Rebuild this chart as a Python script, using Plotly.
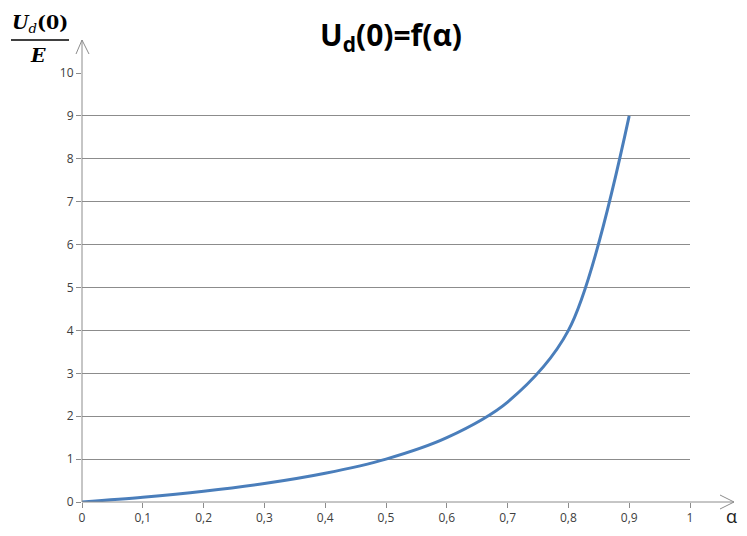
import plotly.graph_objects as go

alpha = [0, 0.1, 0.2, 0.3, 0.4, 0.5, 0.6, 0.7, 0.8, 0.9]
ud_over_e = [0, 0.11, 0.25, 0.43, 0.67, 1.0, 1.5, 2.33, 4.0, 9.0]

x_tickvals = [0, 0.1, 0.2, 0.3, 0.4, 0.5, 0.6, 0.7, 0.8, 0.9, 1]
x_ticktext = ["0", "0,1", "0,2", "0,3", "0,4", "0,5", "0,6", "0,7", "0,8", "0,9", "1"]
y_tickvals = list(range(0, 11))

OFF = 8  # page body margin
W, H = 747 - 2 * OFF, 536 - 2 * OFF
# screen pixel positions of the plot area
SX0, SX1, SY0, SY1 = 82, 690, 502, 73
L = SX0 - OFF
R = W - (SX1 - OFF)
T = SY1 - OFF
B = H - (SY0 - OFF)
pw, ph = W - L - R, H - T - B

def px(xs):
    return (xs - SX0) / pw

def py(ys):
    return (SY0 - ys) / ph

grid = "#8c8c8c"
tickfont = dict(family="Open Sans, DejaVu Sans, sans-serif", size=12, color="#404040")

fig = go.Figure()
fig.add_trace(go.Scatter(
    x=alpha, y=ud_over_e, mode="lines",
    line=dict(color="#4a7ebb", width=3, shape="spline", smoothing=0.9),
    hoverinfo="skip", showlegend=False,
))

fig.update_layout(
    width=W, height=H,
    margin=dict(l=L, r=R, t=T, b=B, autoexpand=False),
    paper_bgcolor="white", plot_bgcolor="white",
    xaxis=dict(range=[0, 1], tickvals=x_tickvals, ticktext=x_ticktext,
               showgrid=False, zeroline=False, showline=False, automargin=False,
               ticks="outside", ticklen=5, tickcolor=grid, tickwidth=1,
               tickfont=tickfont, fixedrange=True),
    yaxis=dict(range=[0, 10], tickvals=y_tickvals, showgrid=True,
               gridcolor=grid, gridwidth=1, zeroline=False, showline=False, automargin=False,
               ticks="outside", ticklen=5, tickcolor=grid, tickwidth=1,
               tickfont=tickfont, fixedrange=True),
)

shapes = []
# x axis line with arrow
shapes.append(dict(type="line", xref="paper", yref="paper", x0=0, y0=0, x1=px(734), y1=0,
                   line=dict(color=grid, width=1)))
shapes.append(dict(type="line", xref="paper", yref="paper", x0=px(720), y0=py(495), x1=px(734), y1=0,
                   line=dict(color=grid, width=1)))
shapes.append(dict(type="line", xref="paper", yref="paper", x0=px(720), y0=py(509), x1=px(734), y1=0,
                   line=dict(color=grid, width=1)))
# y axis line with arrow
shapes.append(dict(type="line", xref="paper", yref="paper", x0=0, y0=0, x1=0, y1=py(40),
                   line=dict(color=grid, width=1)))
shapes.append(dict(type="line", xref="paper", yref="paper", x0=px(76), y0=py(54), x1=0, y1=py(40),
                   line=dict(color=grid, width=1)))
shapes.append(dict(type="line", xref="paper", yref="paper", x0=px(89), y0=py(54), x1=0, y1=py(40),
                   line=dict(color=grid, width=1)))
# fraction bar
shapes.append(dict(type="line", xref="paper", yref="paper", x0=px(11), y0=py(40), x1=px(69), y1=py(40),
                   line=dict(color="black", width=1.5)))
fig.update_layout(shapes=shapes)

serif = "DejaVu Serif, Liberation Serif, serif"
fig.add_annotation(xref="paper", yref="paper", x=px(40), y=py(24),
                   text="<b><i>U</i></b><sub><i>d</i></sub><b>(0)</b>", showarrow=False,
                   font=dict(family=serif, size=19, color="black"), xanchor="center", yanchor="middle")
fig.add_annotation(xref="paper", yref="paper", x=px(38), y=py(55),
                   text="<b><i>E</i></b>", showarrow=False,
                   font=dict(family=serif, size=19, color="black"), xanchor="center", yanchor="middle")
fig.add_annotation(xref="paper", yref="paper", x=px(391), y=py(36),
                   text="<b>U<sub>d</sub>(0)=f(α)</b>", showarrow=False,
                   font=dict(family="Open Sans, DejaVu Sans, sans-serif", size=30, color="black"),
                   xanchor="center", yanchor="middle")
fig.add_annotation(xref="paper", yref="paper", x=px(731), y=py(516),
                   text="α", showarrow=False, borderpad=0,
                   font=dict(family="Open Sans, DejaVu Sans, sans-serif", size=18, color="#222222"),
                   xanchor="center", yanchor="middle")

fig.write_html("out.html")
